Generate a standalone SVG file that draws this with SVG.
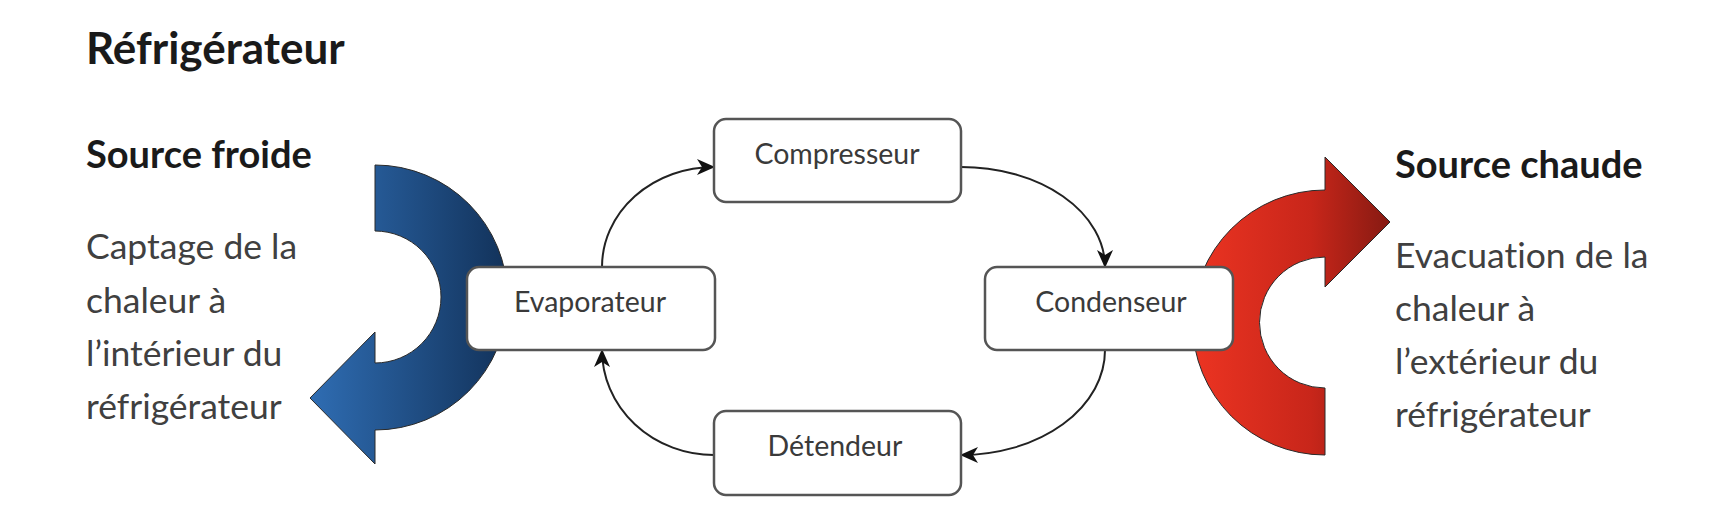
<svg xmlns="http://www.w3.org/2000/svg" width="1732" height="524" viewBox="0 0 1732 524">
  <defs>
    <linearGradient id="gBlue" x1="0" y1="0" x2="1" y2="0">
      <stop offset="0" stop-color="#2f6db3"/>
      <stop offset="1" stop-color="#12325a"/>
    </linearGradient>
    <linearGradient id="gRed" x1="0" y1="0" x2="1" y2="0">
      <stop offset="0" stop-color="#ec3422"/>
      <stop offset="0.6" stop-color="#c8261a"/>
      <stop offset="1" stop-color="#861a12"/>
    </linearGradient>
    <marker id="arr" markerUnits="userSpaceOnUse" markerWidth="20" markerHeight="18" refX="17" refY="8" orient="auto">
      <path d="M0,0 L18,8 L0,16 L5,8 Z" fill="#111"/>
    </marker>
    <style>
      .box { fill: #ffffff; stroke: #555; stroke-width: 2.5; }
      .lbl { font-family: Lato, "Liberation Sans", sans-serif; font-size: 28.5px; fill: #3a3a3a; text-anchor: middle; }
      .head { font-family: Lato, "Liberation Sans", sans-serif; font-weight: bold; fill: #1a1a1a; }
      .body { font-family: Lato, "Liberation Sans", sans-serif; font-size: 35.5px; fill: #404040; font-variant-ligatures: none; }
      .conn { fill: none; stroke: #222; stroke-width: 2; marker-end: url(#arr); }
      .bigarrow { stroke: #2a2a2a; stroke-width: 1; }
    </style>
  </defs>
  <rect width="1732" height="524" fill="#ffffff"/>

  <g id="title">
    <text class="head" x="86" y="64" font-size="44">Réfrigérateur</text>
  </g>

  <g id="source-froide">
    <text class="head" x="86" y="168" font-size="38">Source froide</text>
    <text class="body" x="86" y="259">Captage de la</text>
    <text class="body" x="86" y="313">chaleur à</text>
    <text class="body" x="86" y="366">l’intérieur du</text>
    <text class="body" x="86" y="419">réfrigérateur</text>
  </g>

  <g id="source-chaude">
    <text class="head" x="1395" y="178" font-size="38">Source chaude</text>
    <text class="body" x="1395" y="268">Evacuation de la</text>
    <text class="body" x="1395" y="321">chaleur à</text>
    <text class="body" x="1395" y="374">l’extérieur du</text>
    <text class="body" x="1395" y="427">réfrigérateur</text>
  </g>

  <g id="arrow-froid">
    <path class="bigarrow" fill="url(#gBlue)" d="M375,165 A132.5,132.5 0 0 1 375,430 L375,464 L310,398 L375,332 L375,363 A66,66 0 0 0 375,231 Z"/>
  </g>

  <g id="arrow-chaud">
    <path class="bigarrow" fill="url(#gRed)" d="M1325,455 A132.5,132.5 0 0 1 1325,190 L1325,157 L1390,222 L1325,287 L1325,257 A65.5,65.5 0 0 0 1325,388 Z"/>
  </g>

  <g id="connectors">
    <path class="conn" d="M602,267 A112,100 0 0 1 714,167"/>
    <path class="conn" d="M961,167 A144,100 0 0 1 1105,267"/>
    <path class="conn" d="M1105,350 A144,105 0 0 1 961,455"/>
    <path class="conn" d="M714,455 A112,105 0 0 1 602,350"/>
  </g>

  <g id="compresseur">
    <rect class="box" x="714" y="119" width="247" height="83" rx="12"/>
    <text class="lbl" x="837" y="164">Compresseur</text>
  </g>

  <g id="evaporateur">
    <rect class="box" x="467" y="267" width="248" height="83" rx="12"/>
    <text class="lbl" x="590" y="312">Evaporateur</text>
  </g>

  <g id="condenseur">
    <rect class="box" x="985" y="267" width="248" height="83" rx="12"/>
    <text class="lbl" x="1111" y="312">Condenseur</text>
  </g>

  <g id="detendeur">
    <rect class="box" x="714" y="411" width="247" height="84" rx="12"/>
    <text class="lbl" x="835" y="456">Détendeur</text>
  </g>
</svg>
